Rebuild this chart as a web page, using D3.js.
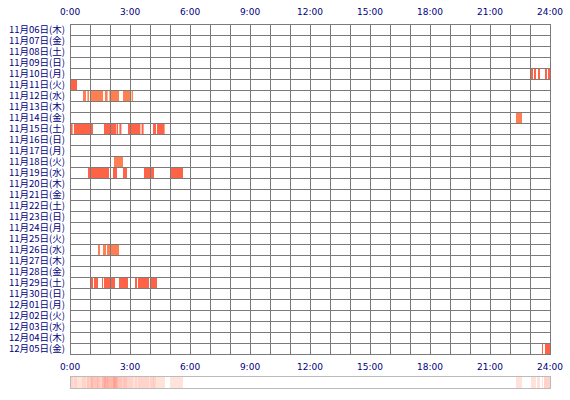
<!DOCTYPE html>
<html><head><meta charset="utf-8">
<script src="https://cdn.jsdelivr.net/npm/d3@7"></script>
<style>body{margin:0;background:#fff}</style>
</head><body>
<script>
// days shown (rows)
const days = ["11月06日(木)","11月07日(金)","11月08日(土)","11月09日(日)","11月10日(月)","11月11日(火)","11月12日(水)","11月13日(木)","11月14日(金)","11月15日(土)","11月16日(日)","11月17日(月)","11月18日(火)","11月19日(水)","11月20日(木)","11月21日(金)","11月22日(土)","11月23日(日)","11月24日(月)","11月25日(火)","11月26日(水)","11月27日(木)","11月28日(金)","11月29日(土)","11月30日(日)","12月01日(月)","12月02日(火)","12月03日(水)","12月04日(木)","12月05日(金)"];
const hourTicks = [0,3,6,9,12,15,18,21,24];
// active spans: [dayIndex, startHour, endHour]
const spans = [
  [4,23.05,23.15],[4,23.2,23.3],[4,23.4,23.5],[4,23.75,23.85],[4,23.9,24],
  [5,0.0,0.35],
  [6,0.65,0.8],[6,0.87,0.95],[6,1.03,1.65],[6,1.75,1.88],[6,1.97,2.45],[6,2.65,3.07],[6,3.1,3.15],
  [8,22.3,22.6],
  [9,0.03,0.13],[9,0.2,1.15],[9,1.7,2.3],[9,2.33,2.4],[9,2.47,2.57],[9,2.9,3.52],[9,3.58,3.68],[9,4.15,4.3],[9,4.35,4.73],
  [12,2.2,2.65],
  [13,0.9,1.95],[13,2.15,2.35],[13,2.65,2.85],[13,3.7,4.2],[13,5.0,5.65],
  [20,1.4,1.5],[20,1.65,1.8],[20,1.85,2.45],
  [23,1.05,1.15],[23,1.2,1.4],[23,1.6,1.65],[23,1.7,2.25],[23,2.45,2.9],[23,3.25,3.35],[23,3.4,3.95],[23,4.0,4.35],
  [29,23.6,23.65],[29,23.75,24]
];
const lightDays = [6,8,12,20];

const W = 570, H = 400, left = 70, gridTop = 24, rowH = 11;
const svg = d3.select("body").append("svg").attr("width", W).attr("height", H);
const x = d3.scaleLinear().domain([0,24]).range([left, left + 480]);
const y = d3.scaleBand().domain(d3.range(days.length)).range([gridTop, gridTop + rowH * days.length]);
const gridBottom = gridTop + rowH * days.length;
const navy = "#000080";

// bars
svg.append("g").selectAll("rect").data(spans).join("rect")
  .attr("x", d => x(d[1])).attr("width", d => x(d[2]) - x(d[1]))
  .attr("y", d => y(d[0]) + 1).attr("height", rowH - 1)
  .attr("fill", d => lightDays.includes(d[0]) ? "#ff7f50" : "#ff6347");

// grid
const g = svg.append("g").attr("stroke", "#7a7a7a").attr("stroke-width", 1).attr("shape-rendering", "crispEdges");
g.selectAll("line.v").data(d3.range(25)).join("line").attr("class","v")
  .attr("x1", d => Math.round(x(d)) + 0.5).attr("x2", d => Math.round(x(d)) + 0.5)
  .attr("y1", gridTop).attr("y2", gridBottom);
g.selectAll("line.h").data(d3.range(days.length + 1)).join("line").attr("class","h")
  .attr("x1", left).attr("x2", x(24) + 1)
  .attr("y1", d => gridTop + d * rowH + 0.5).attr("y2", d => gridTop + d * rowH + 0.5);

// day labels
svg.append("g").selectAll("text").data(days).join("text")
  .attr("x", 65).attr("y", (d, i) => y(i) + rowH / 2 + 3.5)
  .attr("text-anchor", "end").attr("fill", navy)
  .style("font", "9.5px 'Noto Sans CJK JP', sans-serif").text(d => d);

// hour labels top & bottom
[15, 370].forEach(yy => {
  svg.append("g").selectAll("text").data(hourTicks).join("text")
    .attr("x", d => x(d)).attr("y", yy).attr("text-anchor", "middle").attr("fill", navy)
    .style("font", "9px 'DejaVu Sans', sans-serif").text(d => d + ":00");
});

// summary strip: count of active days per 3-minute bin
const bins = d3.range(0, 24, 0.05);
const counts = bins.map(b => spans.filter(s => s[1] < b + 0.05 && s[2] > b).length);
const maxC = d3.max(counts);
const col = d3.scaleLinear().domain([0, maxC]).range(["#fff0ea", "#ff9a8a"]);
svg.append("g").selectAll("rect").data(bins).join("rect")
  .attr("x", d => x(d)).attr("width", x(0.05) - x(0) + 0.3)
  .attr("y", 377).attr("height", 11)
  .attr("fill", (d, i) => counts[i] ? col(counts[i]) : "#ffffff");
svg.append("rect").attr("x", left + 0.5).attr("y", 376.5).attr("width", 480).attr("height", 12)
  .attr("fill", "none").attr("stroke", "#bbbbbb");
</script>
</body></html>
